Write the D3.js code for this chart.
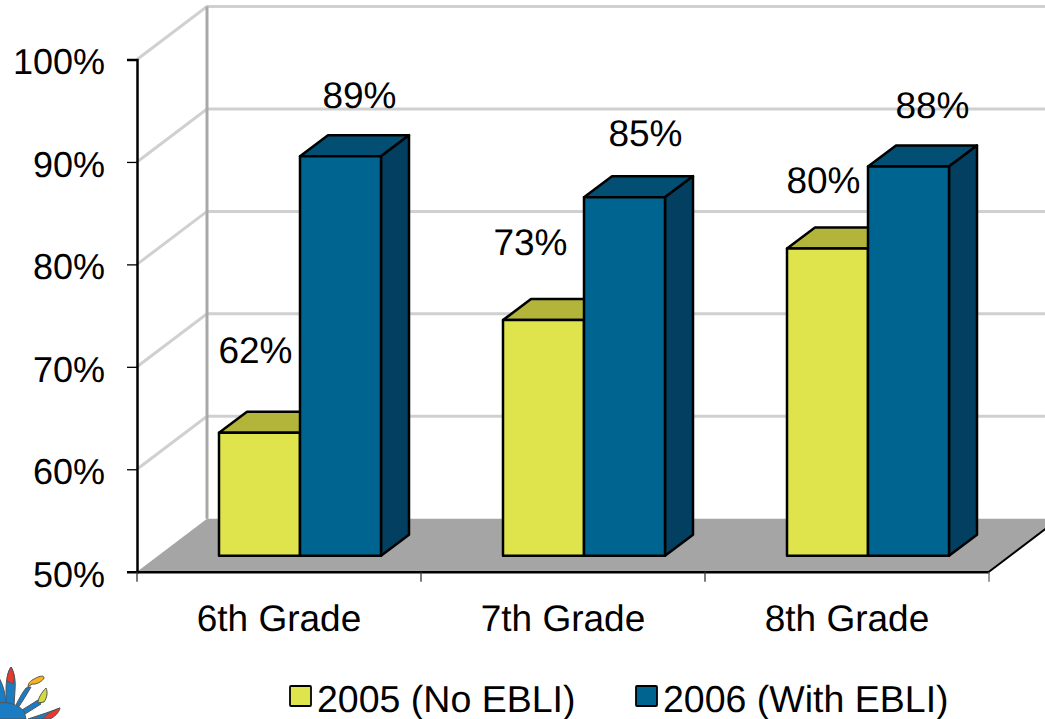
<!DOCTYPE html>
<html><head><meta charset="utf-8">
<script src="https://cdn.jsdelivr.net/npm/d3@7"></script>
<style>
html,body{margin:0;padding:0;background:#fff;overflow:hidden}
svg{display:block}
text{font-family:"Liberation Sans",Arial,sans-serif;font-size:37px;fill:#000;text-rendering:geometricPrecision}
</style></head><body>
<svg id="c" width="1045" height="719"></svg>
<script>
const categories = ["6th Grade","7th Grade","8th Grade"];
const seriesNames = ["2005 (No EBLI)","2006 (With EBLI)"];
const values2005 = [62,73,80];
const values2006 = [89,85,88];
const labels2005 = ["62%","73%","80%"];
const labels2006 = ["89%","85%","88%"];
const yTicks = [50,60,70,80,90,100];
const labelShift2005 = [[-4,-70],[-13,-65],[-4,-55]];
const labelShift2006 = [[19,-48],[21,-51],[24,-48]];

const svg = d3.select("#c");
const x = d3.scaleBand().domain(categories).range([137,989]);
const y = d3.scaleLinear().domain([50,100]).range([571.7,59.5]);
const wallDx = 70, wallDy = -53;
const barLift = 16, barShift = 21, barW = 81, depthDx = 28, depthDy = -21;
const sub = d3.scaleBand().domain([0,1]).range([-barW,barW]);
const line = d3.line();

// walls & gridlines
yTicks.slice(1).forEach(t=>{
  svg.append("path").attr("fill","none").attr("stroke","#d0d0d0").attr("stroke-width",3)
    .attr("d",line([[137,y(t)],[137+wallDx,y(t)+wallDy],[989+wallDx,y(t)+wallDy]]));
});
svg.append("path").attr("fill","#a5a5a5")
  .attr("d",line([[137,y(50)],[137+wallDx,y(50)+wallDy],[989+wallDx,y(50)+wallDy],[989,y(50)]])+"Z");
svg.append("path").attr("stroke","#a8a8a8").attr("stroke-width",3)
  .attr("d",line([[137+wallDx,y(100)+wallDy],[137+wallDx,y(50)+wallDy]]));

// bars
function bar(cat,i,v,face,top,side){
  const c = x(cat)+x.bandwidth()/2+barShift;
  const x0 = c+sub(i), x1 = x0+barW;
  const yb = y(50)-barLift, yt = y(v)-barLift;
  const g = svg.append("g").attr("stroke","#000").attr("stroke-width",2.5).attr("stroke-linejoin","round");
  g.append("path").attr("fill",top).attr("d",line([[x0,yt],[x0+depthDx,yt+depthDy],[x1+depthDx,yt+depthDy],[x1,yt]])+"Z");
  g.append("path").attr("fill",side).attr("d",line([[x1,yt],[x1+depthDx,yt+depthDy],[x1+depthDx,yb+depthDy],[x1,yb]])+"Z");
  g.append("rect").attr("x",x0).attr("y",yt).attr("width",barW).attr("height",yb-yt).attr("fill",face);
}
categories.forEach((c,k)=>{
  bar(c,0,values2005[k],"#dfe44d","#b2b53a","#9a9c30");
  bar(c,1,values2006[k],"#006491","#034f74","#023f60");
});

// axes
const ya = d3.axisLeft(y).tickValues(yTicks).tickFormat(d=>d+"%").tickSize(10).tickPadding(22);
const gy = svg.append("g").attr("transform","translate(137,0)").call(ya);
const xa = d3.axisBottom(x).tickSize(0).tickPadding(33);
const gx = svg.append("g").attr("transform",`translate(0,${y(50)})`).call(xa);
[gy,gx].forEach(g=>{
  g.attr("font-family",null).attr("font-size",null);
  g.selectAll("path.domain").attr("stroke","#000").attr("stroke-width",2.5);
  g.selectAll("line").attr("stroke","#000").attr("stroke-width",1.3);
});
gy.selectAll("text").attr("dy","0.4em").style("font-size","36px");
gx.selectAll("text").attr("dy","0.71em");
x.domain().forEach(c=>{
  svg.append("line").attr("x1",x(c)).attr("x2",x(c)).attr("y1",y(50)).attr("y2",y(50)+10).attr("stroke","#333").attr("stroke-width",1.3);
});
svg.append("line").attr("x1",989).attr("x2",989).attr("y1",y(50)).attr("y2",y(50)+10).attr("stroke","#666").attr("stroke-width",1.3);
svg.append("line").attr("x1",989).attr("y1",y(50)).attr("x2",989+wallDx).attr("y2",y(50)+wallDy).attr("stroke","#000").attr("stroke-width",2);

// data labels
categories.forEach((c,k)=>{
  const cx = x(c)+x.bandwidth()/2+barShift;
  svg.append("text").attr("text-anchor","middle")
    .attr("x",cx-barW/2+labelShift2005[k][0]).attr("y",y(values2005[k])-barLift+labelShift2005[k][1]).text(labels2005[k]);
  svg.append("text").attr("text-anchor","middle")
    .attr("x",cx+barW/2+labelShift2006[k][0]).attr("y",y(values2006[k])-barLift+labelShift2006[k][1]).text(labels2006[k]);
});

// legend
const legendFill = ["#dfe44d","#006491"], legendX = [290,636];
seriesNames.forEach((n,i)=>{
  svg.append("rect").attr("x",legendX[i]).attr("y",686).attr("width",21).attr("height",20)
    .attr("fill",legendFill[i]).attr("stroke","#000").attr("stroke-width",1.8).attr("rx",1);
  svg.append("text").attr("x",legendX[i]+27).attr("y",712).style("font-size","37.5px").text(n);
});

// logo
const logo = svg.append("g").attr("stroke","#555").attr("stroke-width",1);
const blue="#1a7cc2";
[ "M-2,676 C3,684 6,694 6,708 L-2,708Z",
  "M6,690 C6,680 8,671 11,667 C14,672 16,680 15,690 L14,706 L6,706Z",
  "M26,688 L31,687 C27,694 22,702 18,708 L16,705 C19,699 22,693 26,688Z",
  "M38,700 L41,704 L25,714 L22,710Z",
  "M46,713 L60,708 L50,719 L28,719Z",
  "M-2,703 C8,701 18,705 24,711 L26,719 L-2,719Z"
].forEach(d=>logo.append("path").attr("d",d).attr("fill",blue));
logo.append("path").attr("fill","#e8392e").attr("d","M7,682 C7,675 9,670 11,667 C14,672 15,678 13,684 L10,682Z");
logo.append("path").attr("fill","#f7b21c").attr("d","M28,687 C28,682 32,680 36,678 C40,676 44,675 44,678 C43,681 36,685 32,684Z");
logo.append("path").attr("fill","#cfdc3c").attr("d","M38,703 C38,698 42,692 46,688 C48,692 47,698 44,702 Z");
logo.append("path").attr("fill","#e8392e").attr("d","M43,719 C46,714 54,710 60,708 C59,713 54,717 50,719Z");
</script>
</body></html>
